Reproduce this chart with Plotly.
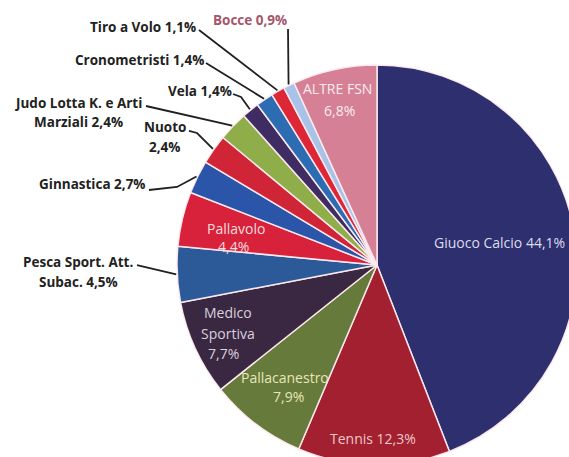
import math
import plotly.graph_objects as go

# the pie runs past the right and bottom edges of the 569x457 view
FW, FH = 580, 468

# Federation shares (percent), clockwise from 12 o'clock
sports = [
    "Giuoco Calcio", "Tennis", "Pallacanestro", "Medico Sportiva",
    "Pesca Sport. Att. Subac.", "Pallavolo", "Ginnastica", "Nuoto",
    "Judo Lotta K. e Arti Marziali", "Vela", "Cronometristi",
    "Tiro a Volo", "Bocce", "ALTRE FSN",
]
shares = [44.1, 12.3, 7.9, 7.7, 4.5, 4.4, 2.7, 2.4, 2.4, 1.4, 1.4, 1.1, 0.9, 6.8]
colors = [
    "#2e2f6f", "#a2202f", "#657a3b", "#3a2842",
    "#2c5a99", "#d8213b", "#2b55a8", "#cf2537",
    "#8fad48", "#3e2c63", "#2b6cb3", "#dd2736",
    "#a9c2e8", "#d58095",
]

# pie geometry in pixels (centre and radius)
CX, CY, R = 377, 265, 200


def px(x):
    return x / FW


def py(y):
    return 1 - y / FH


def pct(v):
    return f"{v:.1f}".replace(".", ",") + "%"


def slice_anchor(i, r):
    """Pixel point on the bisector of slice i at radius r."""
    total = sum(shares)
    start = sum(shares[:i])
    mid = (start + shares[i] / 2) / total * 2 * math.pi
    return CX + r * math.sin(mid), CY - r * math.cos(mid)


fig = go.Figure(
    go.Pie(
        labels=sports,
        values=shares,
        sort=False,
        direction="clockwise",
        rotation=0,
        marker=dict(colors=colors, line=dict(color="rgba(255,236,240,0.95)", width=1.5)),
        textinfo="none",
        hoverinfo="label+percent",
        showlegend=False,
        domain=dict(x=[(CX - R) / FW, (CX + R) / FW], y=[(FH - CY - R) / FH, (FH - CY + R) / FH]),
    )
)

annotations = []
shapes = []

# labels written inside the larger slices: (slice index, [(text, x, y)])
inside = [
    (0, [(f"{sports[0]} {pct(shares[0])}", 499, 242)]),
    (1, [(f"{sports[1]} {pct(shares[1])}", 373, 438)]),
    (2, [(sports[2], 285, 377), (pct(shares[2]), 288, 396)]),
    (3, [("Medico", 228, 312), ("Sportiva", 228, 333), (pct(shares[3]), 223, 353)]),
    (5, [(sports[5], 236, 228), (pct(shares[5]), 233, 246)]),
    (13, [(sports[13], 337, 88), (pct(shares[13]), 339, 110)]),
]
inside_colors = {0: "#dcdcec", 1: "#f0c8cc", 2: "#e8e6b8", 3: "#d8d0dc", 5: "#f6dede", 13: "#fbecef"}
for i, lines in inside:
    for text, x, y in lines:
        annotations.append(dict(
            text=text, x=px(x), y=py(y), xref="paper", yref="paper",
            showarrow=False, xanchor="center", yanchor="middle",
            font=dict(family="Open Sans", size=14, color=inside_colors[i]),
        ))

# labels outside the pie, joined to their slice by a leader line
# (slice index, [(text, x, y)], leader points before reaching the slice)
outside = [
    (11, [(f"{sports[11]} {pct(shares[11])}", 143, 27)], [(199, 30)]),
    (12, [(f"{sports[12]} {pct(shares[12])}", 250, 20)], [(288, 29)]),
    (10, [(f"{sports[10]} {pct(shares[10])}", 139, 60)], [(206, 63)]),
    (9, [(f"{sports[9]} {pct(shares[9])}", 200, 91)], [(233, 94), (241, 97)]),
    (8, [("Judo Lotta K. e Arti", 78, 103), (f"Marziali {pct(shares[8])}", 78, 122)], [(146, 106)]),
    (7, [(sports[7], 165, 127), (pct(shares[7]), 164, 147)], [(189, 131), (197, 133)]),
    (6, [(f"{sports[6]} {pct(shares[6])}", 92, 184)], [(149, 190), (177, 187)]),
    (4, [("Pesca Sport. Att.", 78, 262), (f"Subac. {pct(shares[4])}", 78, 282)], [(137, 265)]),
]
for i, lines, pts in outside:
    col = "#a4566a" if i == 12 else "#222222"
    for text, x, y in lines:
        annotations.append(dict(
            text=f"<b>{text}</b>", x=px(x), y=py(y), xref="paper", yref="paper",
            showarrow=False, xanchor="center", yanchor="middle",
            font=dict(family="Open Sans", size=13.5, color=col),
        ))
    ax, ay = slice_anchor(i, R + 1)
    path_pts = pts + [(ax, ay)]
    path = "M " + " L ".join(f"{px(x):.5f},{py(y):.5f}" for x, y in path_pts)
    shapes.append(dict(type="path", path=path, xref="paper", yref="paper",
                       line=dict(color="#202020", width=1.8)))

fig.update_layout(
    width=FW, height=FH,
    margin=dict(l=0, r=0, t=0, b=0),
    paper_bgcolor="white",
    plot_bgcolor="white",
    annotations=annotations,
    shapes=shapes,
)

# crop the page to the window instead of showing scrollbars
fig.write_html(
    "out.html",
    post_script="document.documentElement.style.overflow='hidden';"
                "document.body.style.overflow='hidden';document.body.style.margin='0';",
)
